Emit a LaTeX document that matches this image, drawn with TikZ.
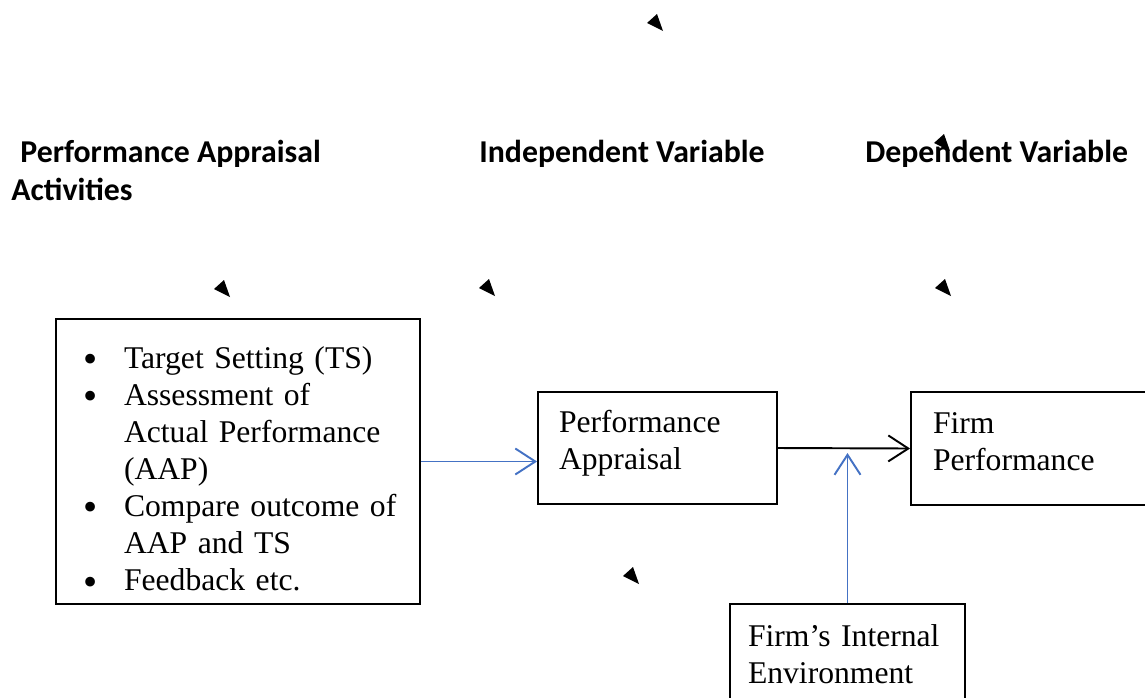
\documentclass[tikz,border=0pt]{standalone}
\usepackage{fontspec}
\setmainfont{Liberation Serif}
\newfontfamily\headfont{Carlito}
\newfontfamily\bulletfont{Liberation Serif}
\usepackage{tikz}
\usetikzlibrary{arrows.meta}
\definecolor{linkblue}{RGB}{68,114,196}
\newcommand{\itm}{\hspace*{0.14cm}\makebox[0.82cm][l]{\raisebox{-2.5pt}{\bulletfont\fontsize{23}{23}\selectfont\textbullet}}}
\newcommand{\cnt}{\hspace*{0.96cm}}
\tikzstyle{block}=[rectangle, draw, line width=1.1pt, align=left,
                   inner xsep=0.36cm, inner ysep=0pt,
                   font=\fontsize{18}{21.1}\selectfont]
\tikzstyle{head} =[inner sep=0pt, anchor=base west, align=left,
                   font=\headfont\bfseries\fontsize{18.1}{21.5}\selectfont]
\tikzstyle{line} =[draw, line width=1.1pt,
                   -{Straight Barb[length=0.4cm,width=0.52cm,line width=1.1pt]}]
\begin{document}
\begin{tikzpicture}[x=0.02cm, y=-0.02cm]
    \useasboundingbox (0,0) rectangle (1145,697);
    \clip (0,0) rectangle (1145,697);
    % headings
    \node [head] at (11,200)  (acthead) {\hspace*{0.18cm}Performance Appraisal\\Activities};
    \node [head] at (479,162) (indhead) {Independent Variable};
    \node [head] at (865,162) (dephead) {Dependent Variable};
    % boxes
    \node [block, inner xsep=0.4cm, text width=6.48cm, minimum height=5.70cm, text depth=118.6pt] at (238,461.5) (acts)
          {\itm Target Setting (TS)\\\itm Assessment of\\\cnt Actual Performance\\\cnt (AAP)\\\itm Compare outcome of\\\cnt AAP and TS\\\itm Feedback etc.};
    \node [block, inner xsep=0.42cm, text width=3.94cm, minimum height=2.24cm, text depth=30.6pt] at (657.5,448) (appr) {Performance\\Appraisal};
    \node [block, inner xsep=0.44cm, text width=3.90cm, minimum height=2.26cm, text depth=29pt] at (1030.5,448.5) (perf) {Firm\\Performance};
    \node [block, text width=3.98cm, minimum height=2.02cm] at (847.5,654.5) (env) {Firm’s Internal\\Environment};
    \coordinate (meet) at (847.5,453);
    % connectors
    \path [line, linkblue] (acts.east) -- (acts.east -| appr.west);
    \path [line] (appr.east) -- (perf.west);
    \path [line, linkblue] (env.north) -- (meet);
    % stray markers
    \fill [shift={(655,22)}]  (-8,1) -- (2,-8) -- (8,9) -- cycle;
    \fill [shift={(942,142)}] (-8,1) -- (2,-8) -- (8,9) -- cycle;
    \fill [shift={(222,288)}] (-8,1) -- (2,-8) -- (8,9) -- cycle;
    \fill [shift={(487,287)}] (-8,1) -- (2,-8) -- (8,9) -- cycle;
    \fill [shift={(943,287)}] (-8,1) -- (2,-8) -- (8,9) -- cycle;
    \fill [shift={(631,575)}] (-8,1) -- (2,-8) -- (8,9) -- cycle;
\end{tikzpicture}
\end{document}
